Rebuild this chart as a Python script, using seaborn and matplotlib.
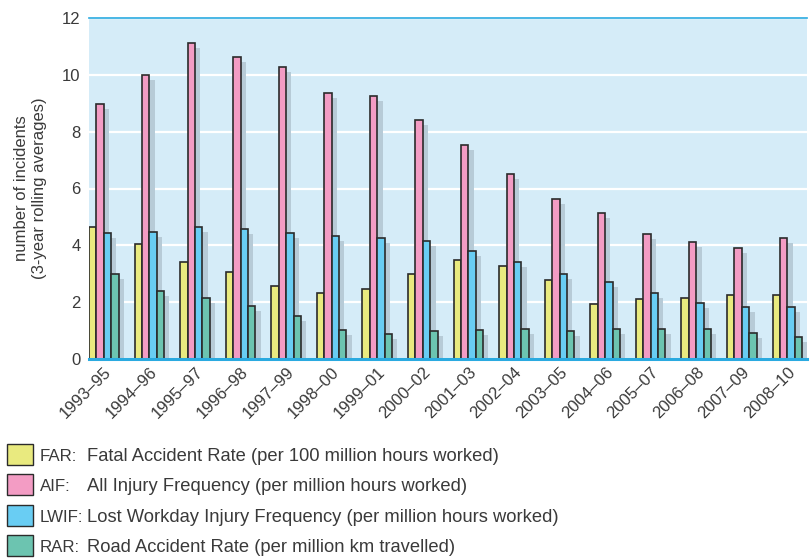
# chart: UK offshore-style safety rates, 3-year rolling averages
import pandas as pd
import matplotlib.pyplot as plt
import matplotlib.patheffects as pe
from matplotlib.patches import Rectangle
import seaborn as sns


# =========================================
# DATA
# =========================================
PERIODS = [
    "1993–95", "1994–96", "1995–97", "1996–98", "1997–99", "1998–00",
    "1999–01", "2000–02", "2001–03", "2002–04", "2003–05", "2004–06",
    "2005–07", "2006–08", "2007–09", "2008–10",
]

FAR = [4.63, 4.05, 3.41, 3.06, 2.57, 2.33, 2.47, 2.99,
       3.49, 3.27, 2.77, 1.92, 2.11, 2.13, 2.26, 2.24]
AIF = [8.96, 9.99, 11.13, 10.64, 10.26, 9.37, 9.25, 8.42,
       7.53, 6.50, 5.64, 5.13, 4.39, 4.12, 3.89, 4.27]
LWIF = [4.42, 4.47, 4.63, 4.59, 4.44, 4.34, 4.27, 4.14,
        3.79, 3.42, 2.98, 2.72, 2.33, 1.98, 1.82, 1.82]
RAR = [2.99, 2.40, 2.15, 1.88, 1.51, 1.02, 0.88, 0.97,
       1.02, 1.04, 0.97, 1.04, 1.04, 1.04, 0.90, 0.78]

MEASURES = ["FAR", "AIF", "LWIF", "RAR"]
DESCRIPTIONS = [
    "Fatal Accident Rate (per 100 million hours worked)",
    "All Injury Frequency (per million hours worked)",
    "Lost Workday Injury Frequency (per million hours worked)",
    "Road Accident Rate (per million km travelled)",
]
COLORS = ["#e9ea7f", "#f39cc4", "#69cdf3", "#6cc4b0"]

TEXT = "#3a3a3a"
EDGE = "#2b2b2b"
BG = "#d5ecf8"
AXIS_BLUE = "#2aaae0"
SHADOW = "#b7cbd7"


# =========================================
# PLOT
# =========================================
def build_frame():
    series = dict(zip(MEASURES, [FAR, AIF, LWIF, RAR]))
    rows = []
    for m in MEASURES:
        for p, v in zip(PERIODS, series[m]):
            rows.append({"period": p, "measure": m, "value": v})
    return pd.DataFrame(rows)


def main():
    sns.set_theme(style="white")
    plt.rcParams["font.family"] = ["Liberation Sans", "DejaVu Sans"]

    df = build_frame()

    fig = plt.figure(figsize=(8.12, 5.58), dpi=100)
    ax = fig.add_axes([89 / 812, 1 - 359 / 558, 718 / 812, 341 / 558])
    ax.set_facecolor(BG)

    sns.barplot(
        data=df, x="period", y="value", hue="measure",
        order=PERIODS, hue_order=MEASURES,
        palette=COLORS, saturation=1, width=0.65, gap=0,
        edgecolor=EDGE, linewidth=1.2, legend=False, ax=ax,
    )

    shadow = [pe.SimplePatchShadow(offset=(3.8, -3.6), shadow_rgbFace=SHADOW,
                                   alpha=1.0), pe.Normal()]
    for bar in ax.patches:
        bar.set_path_effects(shadow)
        bar.set_zorder(3)

    ax.set_ylim(0, 12)
    ax.set_xlim(-0.325, 15.43)
    ax.set_yticks(range(0, 13, 2))
    ax.yaxis.grid(True, color="white", linewidth=1.6, zorder=0)
    ax.set_axisbelow(True)

    for side in ["left", "right"]:
        ax.spines[side].set_visible(False)
    ax.spines["bottom"].set_color(AXIS_BLUE)
    ax.spines["bottom"].set_linewidth(2.2)
    ax.spines["bottom"].set_zorder(5)
    ax.spines["top"].set_color(AXIS_BLUE)
    ax.spines["top"].set_linewidth(1.2)

    ax.tick_params(axis="both", length=0, labelsize=12, colors=TEXT)
    ax.tick_params(axis="y", pad=6)
    ax.tick_params(axis="x", pad=4)
    plt.setp(ax.get_xticklabels(), rotation=45, ha="right",
             rotation_mode="anchor")

    ax.set_xlabel("")
    ax.set_ylabel("number of incidents\n(3-year rolling averages)",
                  fontsize=12, color=TEXT, labelpad=11, linespacing=1.25)

    # legend rows below the chart
    baselines = [461, 491, 522, 552]
    for base, m, desc, c in zip(baselines, MEASURES, DESCRIPTIONS, COLORS):
        fig.add_artist(Rectangle(
            (7 / 812, 1 - (base + 4) / 558), 26 / 812, 21 / 558,
            transform=fig.transFigure, facecolor=c, edgecolor=EDGE,
            linewidth=1.0))
        fig.text(40 / 812, 1 - base / 558, m + ":", fontsize=12.2,
                 color=TEXT, va="baseline", ha="left")
        fig.text(87 / 812, 1 - base / 558, desc, fontsize=13.2,
                 color=TEXT, va="baseline", ha="left")

    fig.savefig("out.png", dpi=100, facecolor="white")


if __name__ == "__main__":
    main()
